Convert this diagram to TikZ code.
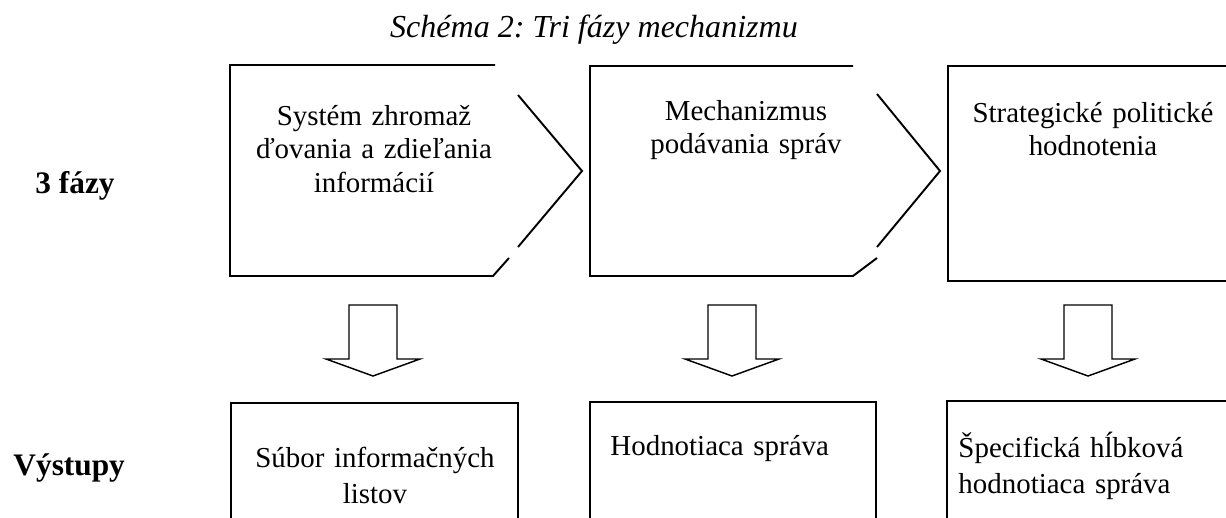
\documentclass[tikz,border=0pt]{standalone}
\usepackage{fontspec}
\setmainfont{Liberation Serif}
\frenchspacing
\begin{document}
\begin{tikzpicture}[line cap=butt,line join=miter,x=0.415pt,y=-0.415pt,
	txt/.style={inner sep=0pt,font=\fontsize{12}{14}\selectfont},
	outtxt/.style={inner sep=0pt,font=\fontsize{12}{15}\selectfont},
	lbl/.style={inner sep=0pt,font=\fontsize{13}{15}\selectfont\bfseries},
	frame/.style={line width=0.8pt},
	blockarrow/.style={line width=0.6pt}]
	\useasboundingbox (0,0) rectangle (1226,517);
	\clip (0,0) rectangle (1226,517);
	% title and row labels
	\node[txt,font=\fontsize{13.3}{15}\selectfont\itshape,anchor=base] (title) at (594,37) {Schéma 2: Tri fázy mechanizmu};
	\node[lbl,anchor=base west] (fazy) at (35,193) {3 fázy};
	\node[lbl,anchor=base west] (vystupy) at (13,475) {Výstupy};
	% phases
	\draw[frame] (495,65)-- (230,65)-- (230,276)-- (493,276)-- (509,258);
	\draw[frame] (518,95)-- (582,171)-- (518,247);
	\draw[frame] (853,66)-- (590,66)-- (590,276)-- (853,276)-- (877,258);
	\draw[frame] (877,94)-- (940,171)-- (877,247);
	\draw[frame,line width=1pt] (1240,66)-- (948,66)-- (948,281)-- (1240,281);
	\node[txt,anchor=base,text width=130pt,align=center] (faza1) at (374,125) {Systém zhromaž\\ďovania a zdieľania\\informácií};
	\node[txt,anchor=base,text width=130pt,align=center] (faza2) at (746,120) {Mechanizmus\\podávania správ};
	\node[txt,anchor=base,text width=130pt,align=center] (faza3) at (1093,122) {Strategické politické\\hodnotenia};
	% block arrows
	\foreach \ax in {373,732,1088}
		\draw[blockarrow] (\ax-24,305)-- (\ax+24,305)-- (\ax+24,359)-- (\ax+47,359)-- (\ax,376)-- (\ax-47,359)-- (\ax-24,359)-- cycle;
	% outputs
	\draw[frame] (231,530)-- (231,403)-- (518,403)-- (518,530);
	\draw[frame] (590,530)-- (590,402)-- (876,402)-- (876,530);
	\draw[frame] (947,530)-- (947,401)-- (1240,401);
	\node[outtxt,anchor=base,text width=130pt,align=center] (vystup1) at (375,467) {Súbor informačných\\listov};
	\node[outtxt,anchor=base west,text width=110pt,align=left] (vystup2) at (610,455) {Hodnotiaca správa};
	\node[outtxt,anchor=base west,text width=110pt,align=left] (vystup3) at (958,457) {Špecifická hĺbková\\hodnotiaca správa};
\end{tikzpicture}
\end{document}
